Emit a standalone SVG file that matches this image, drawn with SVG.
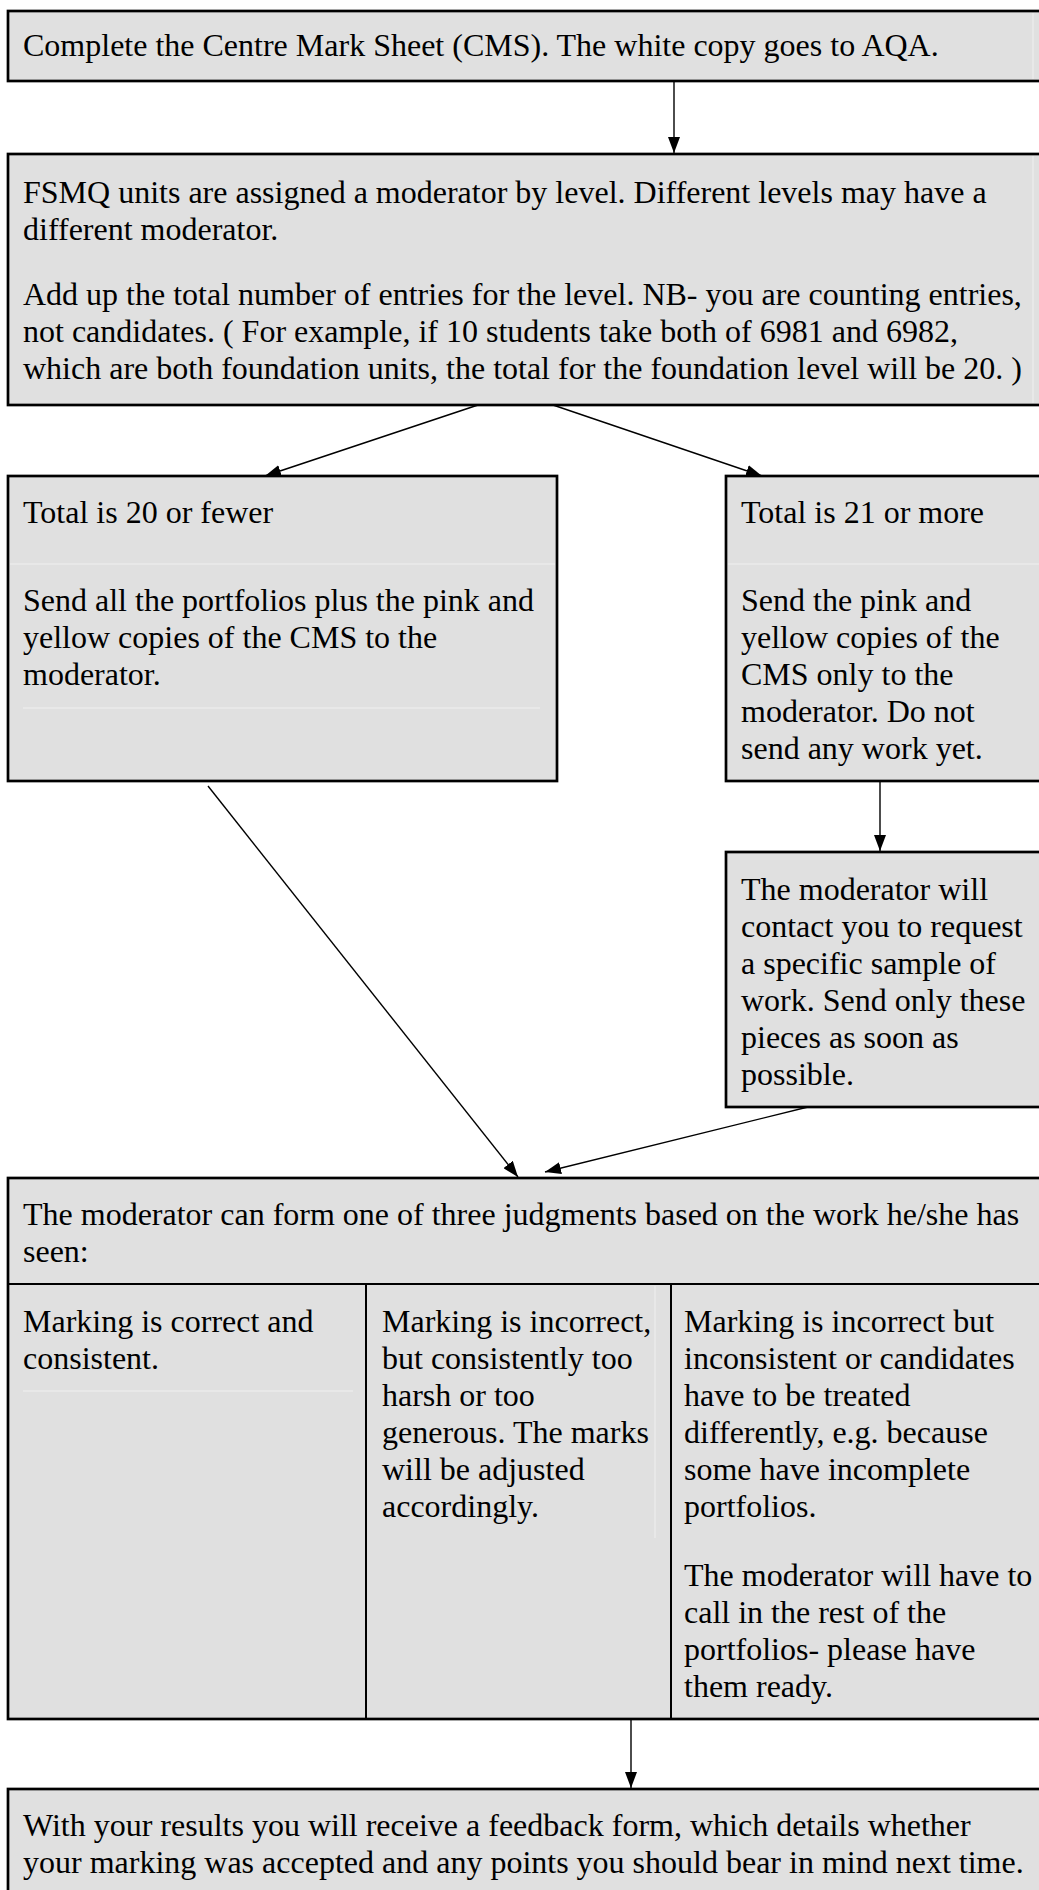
<svg xmlns="http://www.w3.org/2000/svg" width="1039" height="1890" viewBox="0 0 1039 1890">
<style>
.box{fill:#e0e0e0;stroke:#000;stroke-width:2.7}
.faint{stroke:#ebebeb;stroke-width:1.5}
.div{stroke:#000;stroke-width:2}
.t{font-family:'Liberation Serif',serif;font-size:32px;fill:#000}
.c{stroke:#000;stroke-width:1.4;fill:none;marker-end:url(#ah)}
</style>
<defs>
<marker id="ah" markerUnits="userSpaceOnUse" markerWidth="16" markerHeight="12" viewBox="0 0 16 12" refX="16" refY="6" orient="auto">
<path d="M0,0 L16,6 L0,12 z" fill="#000"/>
</marker>
</defs>
<rect width="1039" height="1890" fill="#fff"/>
<g id="n1">
<rect class="box" x="8" y="11" width="1045" height="70"/>
<line class="faint" x1="1033" y1="13" x2="1033" y2="79"/>
<text class="t" x="23" y="56">Complete the Centre Mark Sheet (CMS). The white copy goes to AQA.</text>
</g>
<g id="n2">
<rect class="box" x="8" y="154" width="1045" height="251"/>
<line class="faint" x1="1033" y1="156" x2="1033" y2="403"/>
<text class="t"><tspan x="23" y="203">FSMQ units are assigned a moderator by level. Different levels may have a</tspan><tspan x="23" y="240">different moderator.</tspan><tspan x="23" y="305">Add up the total number of entries for the level. NB- you are counting entries,</tspan><tspan x="23" y="342">not candidates. ( For example, if 10 students take both of 6981 and 6982,</tspan><tspan x="23" y="379">which are both foundation units, the total for the foundation level will be 20. )</tspan></text>
</g>
<g id="n3">
<rect class="box" x="8" y="476" width="549" height="305"/>
<line class="faint" x1="10" y1="564" x2="555" y2="564"/>
<line class="faint" x1="23" y1="708" x2="540" y2="708"/>
<text class="t"><tspan x="23" y="523">Total is 20 or fewer</tspan><tspan x="23" y="611">Send all the portfolios plus the pink and</tspan><tspan x="23" y="648">yellow copies of the CMS to the</tspan><tspan x="23" y="685">moderator.</tspan></text>
</g>
<g id="n4">
<rect class="box" x="726" y="476" width="330" height="305"/>
<line class="faint" x1="728" y1="564" x2="1039" y2="564"/>
<text class="t"><tspan x="741" y="523">Total is 21 or more</tspan><tspan x="741" y="611">Send the pink and</tspan><tspan x="741" y="648">yellow copies of the</tspan><tspan x="741" y="685">CMS only to the</tspan><tspan x="741" y="722">moderator. Do not</tspan><tspan x="741" y="759">send any work yet.</tspan></text>
</g>
<g id="n5">
<rect class="box" x="726" y="852" width="330" height="255"/>
<text class="t"><tspan x="741" y="900">The moderator will</tspan><tspan x="741" y="937">contact you to request</tspan><tspan x="741" y="974">a specific sample of</tspan><tspan x="741" y="1011">work. Send only these</tspan><tspan x="741" y="1048">pieces as soon as</tspan><tspan x="741" y="1085">possible.</tspan></text>
</g>
<g id="n6">
<rect class="box" x="8" y="1178" width="1045" height="541"/>
<line class="div" x1="8" y1="1284" x2="1053" y2="1284"/>
<line class="div" x1="366" y1="1284" x2="366" y2="1719"/>
<line class="div" x1="671" y1="1284" x2="671" y2="1719"/>
<line class="faint" x1="23" y1="1391" x2="353" y2="1391"/>
<line class="faint" x1="655" y1="1286" x2="655" y2="1538"/>
<text class="t"><tspan x="23" y="1225">The moderator can form one of three judgments based on the work he/she has</tspan><tspan x="23" y="1262">seen:</tspan></text>
<text class="t"><tspan x="23" y="1332">Marking is correct and</tspan><tspan x="23" y="1369">consistent.</tspan></text>
<text class="t"><tspan x="382" y="1332">Marking is incorrect,</tspan><tspan x="382" y="1369">but consistently too</tspan><tspan x="382" y="1406">harsh or too</tspan><tspan x="382" y="1443">generous. The marks</tspan><tspan x="382" y="1480">will be adjusted</tspan><tspan x="382" y="1517">accordingly.</tspan></text>
<text class="t"><tspan x="684" y="1332">Marking is incorrect but</tspan><tspan x="684" y="1369">inconsistent or candidates</tspan><tspan x="684" y="1406">have to be treated</tspan><tspan x="684" y="1443">differently, e.g. because</tspan><tspan x="684" y="1480">some have incomplete</tspan><tspan x="684" y="1517">portfolios.</tspan><tspan x="684" y="1586">The moderator will have to</tspan><tspan x="684" y="1623">call in the rest of the</tspan><tspan x="684" y="1660">portfolios- please have</tspan><tspan x="684" y="1697">them ready.</tspan></text>
</g>
<g id="n7">
<rect class="box" x="8" y="1789" width="1045" height="120"/>
<text class="t"><tspan x="23" y="1836">With your results you will receive a feedback form, which details whether</tspan><tspan x="23" y="1873">your marking was accepted and any points you should bear in mind next time.</tspan></text>
</g>
<g id="connectors">
<line class="c" x1="674" y1="81" x2="674" y2="153"/>
<line class="c" x1="478" y1="405" x2="265" y2="476"/>
<line class="c" x1="553" y1="405" x2="762" y2="476"/>
<line class="c" x1="880" y1="781" x2="880" y2="851"/>
<line class="c" x1="208" y1="786" x2="518" y2="1177"/>
<line class="c" x1="808" y1="1107" x2="545" y2="1172"/>
<line class="c" x1="631" y1="1719" x2="631" y2="1788"/>
</g>
</svg>
